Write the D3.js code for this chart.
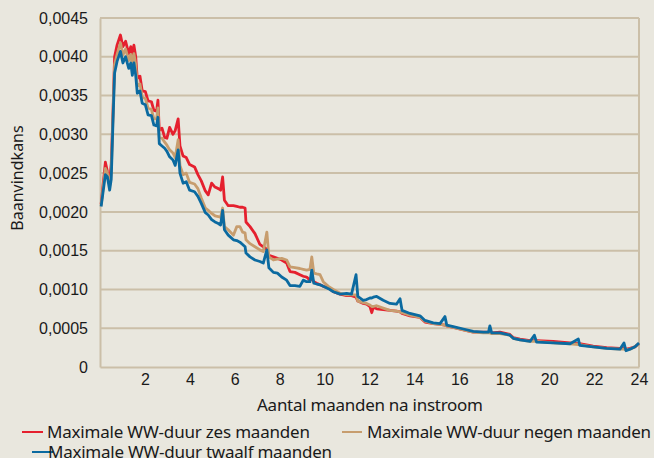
<!DOCTYPE html>
<html>
<head>
<meta charset="utf-8">
<script src="https://cdn.jsdelivr.net/npm/d3@7"></script>
<style>
  html, body { margin: 0; padding: 0; background: #e9e7de; }
  svg { display: block; font-family: "Noto Sans", "Open Sans", sans-serif; }
  text { fill: #1a1a1a; font-variant-numeric: oldstyle-nums; font-feature-settings: "onum" 1; }
</style>
</head>
<body>
<svg id="chart" width="654" height="458"></svg>
<script>
// months since inflow (shared x grid)
const months = [0.05, 0.24, 0.33, 0.43, 0.50, 0.58, 0.65, 0.76, 0.91, 1.02, 1.14, 1.28, 1.37, 1.44, 1.51, 1.59, 1.66, 1.78, 1.88, 2.02,
  2.14, 2.29, 2.40, 2.52, 2.58, 2.64, 2.76, 2.88, 2.98, 3.10, 3.25, 3.35, 3.48, 3.56, 3.70, 3.84, 3.99, 4.21, 4.36, 4.51,
  4.69, 4.82, 4.97, 5.12, 5.27, 5.37, 5.46, 5.54, 5.71, 5.94, 6.09, 6.23, 6.35, 6.46, 6.50, 6.68, 6.90, 7.12, 7.27, 7.43,
  7.52, 7.72, 7.90, 8.09, 8.31, 8.46, 8.68, 8.90, 9.05, 9.20, 9.35, 9.43, 9.52, 9.65, 9.80, 9.94, 10.17, 10.39, 10.69, 10.98,
  11.20, 11.40, 11.48, 11.72, 11.87, 12.02, 12.10, 12.17, 12.32, 12.61, 12.91, 13.20, 13.36, 13.45, 13.80, 14.25, 14.47, 14.84, 15.14, 15.36,
  15.44, 15.73, 16.18, 16.62, 17.07, 17.30, 17.36, 17.44, 17.81, 18.25, 18.40, 18.70, 19.15, 19.34, 19.44, 20.18, 20.93, 21.30, 21.36, 21.96,
  22.56, 23.15, 23.33, 23.42, 23.60, 23.82, 24.0];

const zesMaanden = [0.00210, 0.00264, 0.00252, 0.00240, 0.00262, 0.00330, 0.00400, 0.00415, 0.00428, 0.00413, 0.00420, 0.00404, 0.00413, 0.00404, 0.00415, 0.00400, 0.00372, 0.00375, 0.00356, 0.00355,
  0.00343, 0.00342, 0.00331, 0.00330, 0.00344, 0.00305, 0.00308, 0.00296, 0.00295, 0.00309, 0.00300, 0.00305, 0.00320, 0.00285, 0.00272, 0.00270, 0.00261, 0.00258, 0.00248, 0.00240,
  0.00227, 0.00222, 0.00237, 0.00232, 0.00230, 0.00228, 0.00245, 0.00215, 0.00208, 0.00208, 0.00207, 0.00206, 0.00206, 0.00205, 0.00187, 0.00181, 0.00172, 0.00158, 0.00155, 0.00152,
  0.00144, 0.00142, 0.00140, 0.00138, 0.00134, 0.00123, 0.00122, 0.00119, 0.00117, 0.00116, 0.00112, 0.00114, 0.00110, 0.00108, 0.00106, 0.00104, 0.00102, 0.00097, 0.00094, 0.00092,
  0.00092, 0.00090, 0.00085, 0.00082, 0.00081, 0.00078, 0.00070, 0.00077, 0.00075, 0.00074, 0.00073, 0.00072, 0.00071, 0.00069, 0.00066, 0.00064, 0.00058, 0.00056, 0.00055, 0.00054,
  0.00053, 0.00051, 0.00048, 0.00045, 0.00045, 0.00045, 0.00045, 0.00044, 0.00045, 0.00042, 0.00038, 0.00036, 0.00034, 0.00034, 0.00034, 0.00033, 0.00031, 0.00030, 0.00030, 0.00027,
  0.00025, 0.00024, 0.00024, 0.00023, 0.00024, 0.00026, 0.00030];

const negenMaanden = [0.00208, 0.00256, 0.00250, 0.00234, 0.00250, 0.00325, 0.00390, 0.00403, 0.00418, 0.00402, 0.00410, 0.00395, 0.00403, 0.00390, 0.00404, 0.00390, 0.00362, 0.00365, 0.00348, 0.00346,
  0.00334, 0.00332, 0.00320, 0.00320, 0.00334, 0.00296, 0.00295, 0.00290, 0.00286, 0.00280, 0.00276, 0.00270, 0.00293, 0.00260, 0.00248, 0.00250, 0.00238, 0.00236, 0.00230, 0.00218,
  0.00205, 0.00202, 0.00198, 0.00195, 0.00194, 0.00193, 0.00205, 0.00181, 0.00177, 0.00170, 0.00181, 0.00181, 0.00174, 0.00173, 0.00164, 0.00159, 0.00155, 0.00151, 0.00149, 0.00174,
  0.00142, 0.00138, 0.00139, 0.00140, 0.00138, 0.00129, 0.00128, 0.00127, 0.00126, 0.00125, 0.00126, 0.00142, 0.00121, 0.00120, 0.00119, 0.00110, 0.00104, 0.00100, 0.00095, 0.00093,
  0.00093, 0.00093, 0.00085, 0.00083, 0.00082, 0.00080, 0.00078, 0.00078, 0.00079, 0.00076, 0.00073, 0.00072, 0.00071, 0.00070, 0.00067, 0.00064, 0.00059, 0.00056, 0.00055, 0.00054,
  0.00053, 0.00051, 0.00048, 0.00045, 0.00044, 0.00044, 0.00044, 0.00043, 0.00043, 0.00041, 0.00037, 0.00035, 0.00033, 0.00033, 0.00033, 0.00031, 0.00030, 0.00029, 0.00029, 0.00026,
  0.00024, 0.00023, 0.00023, 0.00022, 0.00023, 0.00026, 0.00030];

const twaalfMaanden = [0.00207, 0.00248, 0.00245, 0.00228, 0.00242, 0.00318, 0.00379, 0.00394, 0.00407, 0.00392, 0.00400, 0.00385, 0.00392, 0.00376, 0.00392, 0.00376, 0.00353, 0.00356, 0.00340, 0.00338,
  0.00325, 0.00324, 0.00312, 0.00311, 0.00322, 0.00288, 0.00285, 0.00282, 0.00278, 0.00271, 0.00267, 0.00260, 0.00280, 0.00250, 0.00237, 0.00239, 0.00228, 0.00226, 0.00220, 0.00211,
  0.00199, 0.00196, 0.00190, 0.00187, 0.00185, 0.00183, 0.00202, 0.00177, 0.00170, 0.00164, 0.00163, 0.00161, 0.00158, 0.00155, 0.00147, 0.00142, 0.00138, 0.00136, 0.00134, 0.00151,
  0.00128, 0.00122, 0.00121, 0.00116, 0.00112, 0.00105, 0.00105, 0.00104, 0.00112, 0.00110, 0.00110, 0.00125, 0.00108, 0.00107, 0.00106, 0.00104, 0.00101, 0.00097, 0.00094, 0.00095,
  0.00094, 0.00119, 0.00091, 0.00086, 0.00087, 0.00089, 0.00089, 0.00090, 0.00091, 0.00086, 0.00082, 0.00081, 0.00088, 0.00073, 0.00069, 0.00066, 0.00060, 0.00057, 0.00056, 0.00065,
  0.00054, 0.00052, 0.00049, 0.00046, 0.00045, 0.00045, 0.00053, 0.00044, 0.00044, 0.00041, 0.00037, 0.00035, 0.00033, 0.00041, 0.00032, 0.00031, 0.00030, 0.00036, 0.00028, 0.00026,
  0.00024, 0.00023, 0.00031, 0.00021, 0.00023, 0.00026, 0.00031];

const seriesNames = ["Maximale WW-duur zes maanden", "Maximale WW-duur negen maanden", "Maximale WW-duur twaalf maanden"];
const xTicks = [2, 4, 6, 8, 10, 12, 14, 16, 18, 20, 22, 24];
const yTicks = [0, 0.0005, 0.001, 0.0015, 0.002, 0.0025, 0.003, 0.0035, 0.004, 0.0045];

const colors = ["#e5202e", "#c79d6e", "#0b6aa0"]
    , gridColor = "#cbbfa8"
    , plot = { left: 100, right: 639, top: 18, bottom: 367 }
    , svg = d3.select("#chart");

const xScale = d3.scaleLinear().domain([0, 24]).range([plot.left, plot.right])
    , yScale = d3.scaleLinear().domain([0, 0.0045]).range([plot.bottom, plot.top])
    , fmt = d => d === 0 ? "0" : d.toFixed(4).replace(".", ",");

// gridlines
svg.append("g")
    .selectAll("line")
    .data(yTicks.slice(1))
    .enter()
    .append("line")
    .attr("x1", plot.left)
    .attr("x2", plot.right)
    .attr("y1", d => yScale(d))
    .attr("y2", d => yScale(d))
    .attr("stroke", gridColor)
    .attr("stroke-width", 2);

// right border
svg.append("line")
    .attr("x1", plot.right).attr("x2", plot.right)
    .attr("y1", plot.top).attr("y2", plot.bottom)
    .attr("stroke", gridColor)
    .attr("stroke-width", 2);

// y axis
svg.append("g")
    .attr("transform", "translate(" + plot.left + ",0)")
    .call(d3.axisLeft(yScale).tickValues(yTicks).tickFormat(fmt).tickSize(0).tickPadding(12))
    .call(g => g.select(".domain").attr("stroke", gridColor).attr("stroke-width", 2))
    .call(g => g.selectAll("text").attr("font-size", 16).attr("font-family", "inherit").attr("fill", "#1a1a1a"));

// x axis
svg.append("g")
    .attr("transform", "translate(0," + plot.bottom + ")")
    .call(d3.axisBottom(xScale).tickValues(xTicks).tickSize(0).tickPadding(7))
    .call(g => g.select(".domain").attr("stroke", gridColor).attr("stroke-width", 2))
    .call(g => g.selectAll("text").attr("font-size", 16).attr("font-family", "inherit").attr("fill", "#1a1a1a"));

// lines
const lineGen = d3.line()
    .x(d => xScale(d[0]))
    .y(d => yScale(d[1]));

[zesMaanden, negenMaanden, twaalfMaanden].forEach((vals, i) => {
    svg.append("path")
        .datum(months.map((m, j) => [m, vals[j]]))
        .attr("fill", "none")
        .attr("stroke", colors[i])
        .attr("stroke-width", 2.8)
        .attr("stroke-linejoin", "round")
        .attr("d", lineGen);
});

// axis titles
svg.append("text")
    .attr("transform", "translate(23,178) rotate(-90)")
    .attr("text-anchor", "middle")
    .attr("font-size", 16)
    .text("Baanvindkans");

svg.append("text")
    .attr("x", 370)
    .attr("y", 411)
    .attr("text-anchor", "middle")
    .attr("font-size", 17)
    .attr("textLength", 226)
    .text("Aantal maanden na instroom");

// legend
const legendPos = [
    { x1: 22, x2: 43, tx: 47, w: 263, y: 432 },
    { x1: 342, x2: 362, tx: 367, w: 284, y: 432 },
    { x1: 32, x2: 53, tx: 48, w: 284, y: 452 }
];
const legend = svg.append("g")
    .selectAll("g")
    .data(seriesNames)
    .enter()
    .append("g");
legend.append("line")
    .attr("x1", (d, i) => legendPos[i].x1)
    .attr("x2", (d, i) => legendPos[i].x2)
    .attr("y1", (d, i) => legendPos[i].y)
    .attr("y2", (d, i) => legendPos[i].y)
    .attr("stroke", (d, i) => colors[i])
    .attr("stroke-width", 2);
legend.append("text")
    .attr("x", (d, i) => legendPos[i].tx)
    .attr("y", (d, i) => legendPos[i].y)
    .attr("dy", "0.35em")
    .attr("font-size", 17)
    .attr("textLength", (d, i) => legendPos[i].w)
    .text(d => d);
</script>
</body>
</html>
